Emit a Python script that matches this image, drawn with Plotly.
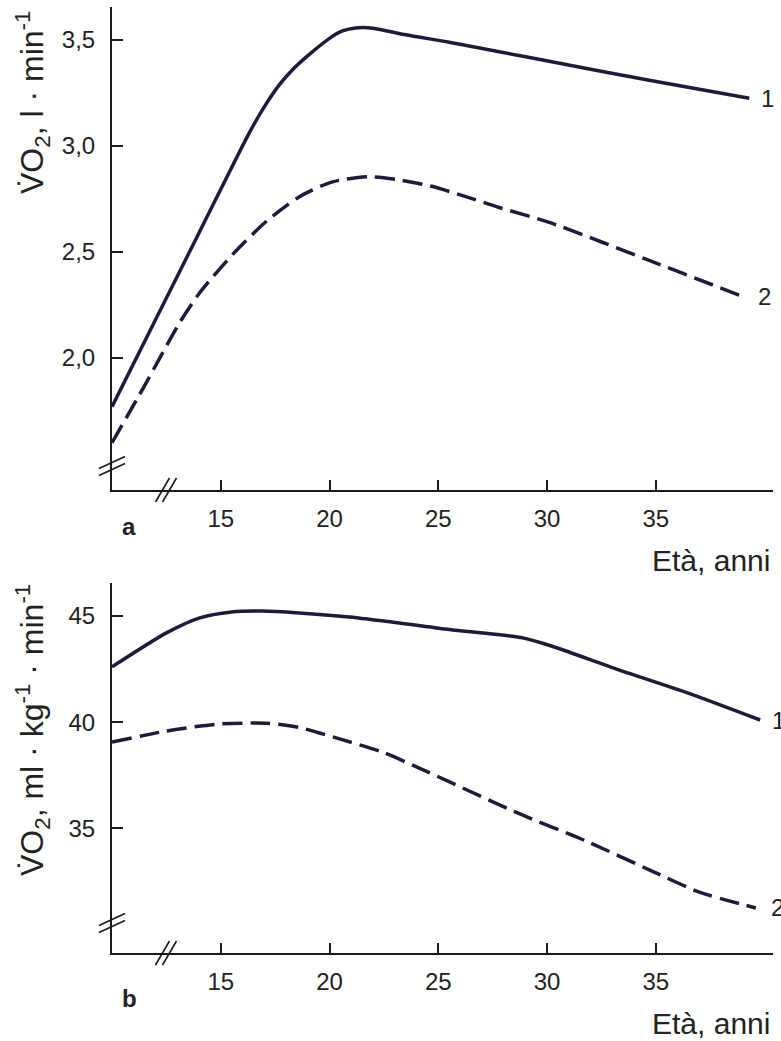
import plotly.graph_objects as go

# ---- data ----
age_a1 = [10, 12, 14, 16.3, 17.0, 17.7, 18.4, 19.1, 20.1, 20.6, 21.2, 22, 23.5, 25.5, 27.8, 30.1, 34.7, 39.3]
vo2_a1 = [1.77, 2.18, 2.59, 3.06, 3.185, 3.29, 3.37, 3.435, 3.515, 3.543, 3.557, 3.556, 3.525, 3.49, 3.445, 3.40, 3.31, 3.225]

age_a2 = [10, 11.5, 13.1, 14.05, 15.56, 17.1, 18.6, 20.1, 21.8, 23.2, 24.7, 26.3, 27.8, 30.1, 34.7, 39.0]
vo2_a2 = [1.60, 1.87, 2.165, 2.31, 2.49, 2.645, 2.76, 2.83, 2.855, 2.84, 2.81, 2.76, 2.71, 2.64, 2.46, 2.29]

age_b1 = [10, 12.5, 14.0, 15.5, 16.9, 18.6, 20.9, 23.2, 25.5, 27.5, 28.8, 30.3, 33.3, 36.4, 39.8]
vo2_b1 = [42.6, 44.2, 44.9, 45.19, 45.23, 45.14, 44.95, 44.67, 44.36, 44.15, 43.98, 43.55, 42.46, 41.4, 40.1]

age_b2 = [10, 12.5, 14.8, 17.1, 18.6, 19.5, 20.5, 22.4, 24.1, 28.7, 31.8, 34.8, 37.0, 39.6]
vo2_b2 = [39.06, 39.58, 39.9, 39.95, 39.75, 39.5, 39.2, 38.6, 37.85, 35.7, 34.4, 33.0, 32.0, 31.25]

x_ticks = [15, 20, 25, 30, 35]
ya_ticks = [2.0, 2.5, 3.0, 3.5]
ya_labels = ["2,0", "2,5", "3,0", "3,5"]
yb_ticks = [35, 40, 45]
yb_labels = ["35", "40", "45"]

LINE = "#1d1b3b"
AX = "#1a1a1a"
TXT = "#222222"
FONT = "Liberation Sans, Arial, sans-serif"

fig = go.Figure()
fig.add_trace(go.Scatter(x=age_a1, y=vo2_a1, mode="lines", line=dict(color=LINE, width=3.5, shape="spline", smoothing=0.7),
                         xaxis="x", yaxis="y", showlegend=False))
fig.add_trace(go.Scatter(x=age_a2, y=vo2_a2, mode="lines", line=dict(color=LINE, width=3.5, shape="spline", smoothing=0.7, dash="20px,8px"),
                         xaxis="x", yaxis="y", showlegend=False))
fig.add_trace(go.Scatter(x=age_b1, y=vo2_b1, mode="lines", line=dict(color=LINE, width=3.5, shape="spline", smoothing=0.7),
                         xaxis="x2", yaxis="y2", showlegend=False))
fig.add_trace(go.Scatter(x=age_b2, y=vo2_b2, mode="lines", line=dict(color=LINE, width=3.5, shape="spline", smoothing=0.7, dash="20px,8px"),
                         xaxis="x2", yaxis="y2", showlegend=False))

W, H = 781, 1041
ML, MR, MT, MB = 112, 8, 7, 88
PW = W - ML - MR
PH = H - MT - MB

def px_x(p):
    return (p - ML) / PW

def px_y(p):
    return 1 - (p - MT) / PH

xr = [10, 10 + PW / 21.75]
xcommon = dict(range=xr, showgrid=False, zeroline=False, showline=True, linecolor=AX, linewidth=2,
               ticks="inside", ticklen=10, tickwidth=1.5, tickcolor=AX, tickvals=x_ticks,
               tickfont=dict(family=FONT, size=24, color=TXT), ticklabelstandoff=6, fixedrange=True)
ycommon = dict(showgrid=False, zeroline=False, showline=True, linecolor=AX, linewidth=2,
               ticks="inside", ticklen=11, tickwidth=1.5, tickcolor=AX,
               tickfont=dict(family=FONT, size=24, color=TXT), ticklabelstandoff=10, fixedrange=True)

fig.update_layout(
    width=W, height=H, margin=dict(l=ML, r=MR, t=MT, b=MB),
    paper_bgcolor="white", plot_bgcolor="white",
    xaxis=dict(domain=[0, 1], anchor="y", **xcommon),
    yaxis=dict(domain=[px_y(490), 1], anchor="x", range=[1.377, 3.656], tickvals=ya_ticks, ticktext=ya_labels, **ycommon),
    xaxis2=dict(domain=[0, 1], anchor="y2", **xcommon),
    yaxis2=dict(domain=[0, px_y(583)], anchor="x2", range=[29.13, 46.55], tickvals=yb_ticks, ticktext=yb_labels, **ycommon),
)

ann = []
ann.append(dict(text="V\u0307O<sub>2</sub>, l · min<sup>-1</sup>", xref="paper", yref="paper",
                x=px_x(32), y=px_y(102), textangle=-90, showarrow=False,
                font=dict(family=FONT, size=32, color=TXT), xanchor="center", yanchor="middle"))
ann.append(dict(text="V\u0307O<sub>2</sub>, ml · kg<sup>-1</sup> · min<sup>-1</sup>", xref="paper", yref="paper",
                x=px_x(32), y=px_y(730), textangle=-90, showarrow=False,
                font=dict(family=FONT, size=32, color=TXT), xanchor="center", yanchor="middle"))
ann.append(dict(text="Età, anni", xref="paper", yref="paper", x=px_x(772), y=px_y(560), showarrow=False,
                font=dict(family=FONT, size=30, color=TXT), xanchor="right", yanchor="middle"))
ann.append(dict(text="Età, anni", xref="paper", yref="paper", x=px_x(772), y=px_y(1023), showarrow=False,
                font=dict(family=FONT, size=30, color=TXT), xanchor="right", yanchor="middle"))
ann.append(dict(text="<b>a</b>", xref="paper", yref="paper", x=px_x(120), y=px_y(526), showarrow=False,
                font=dict(family=FONT, size=24, color=TXT), xanchor="left", yanchor="middle"))
ann.append(dict(text="<b>b</b>", xref="paper", yref="paper", x=px_x(120), y=px_y(998), showarrow=False,
                font=dict(family=FONT, size=24, color=TXT), xanchor="left", yanchor="middle"))
lf = dict(family=FONT, size=24, color=TXT)
ann.append(dict(text="1", xref="x", yref="y", x=age_a1[-1] + 0.45, y=vo2_a1[-1], showarrow=False, font=lf, xanchor="left", yanchor="middle"))
ann.append(dict(text="2", xref="x", yref="y", x=age_a2[-1] + 0.6, y=vo2_a2[-1], showarrow=False, font=lf, xanchor="left", yanchor="middle"))
ann.append(dict(text="1", xref="x2", yref="y2", x=age_b1[-1] + 0.45, y=vo2_b1[-1], showarrow=False, font=lf, xanchor="left", yanchor="middle"))
ann.append(dict(text="2", xref="x2", yref="y2", x=age_b2[-1] + 0.6, y=vo2_b2[-1], showarrow=False, font=lf, xanchor="left", yanchor="middle"))
fig.update_layout(annotations=ann)

# axis break marks (decorations)
shapes = []
def brk_y(py):
    for off in (-3.5, 3.5):
        shapes.append(dict(type="line", xref="paper", yref="paper",
                           x0=px_x(99), y0=px_y(py + 6 + off), x1=px_x(125), y1=px_y(py - 6 + off),
                           line=dict(color=AX, width=1.6)))
def brk_x(px, py):
    for off in (-3.5, 3.5):
        shapes.append(dict(type="line", xref="paper", yref="paper",
                           x0=px_x(px - 7 + off), y0=px_y(py + 12), x1=px_x(px + 7 + off), y1=px_y(py - 12),
                           line=dict(color=AX, width=1.6)))
brk_y(466)
brk_x(166, 490)
brk_y(923)
brk_x(166, 953)
fig.update_layout(shapes=shapes)

fig.write_html("out.html", config={"displayModeBar": False},
               post_script="document.body.style.margin='0px';document.body.style.overflow='hidden';")
